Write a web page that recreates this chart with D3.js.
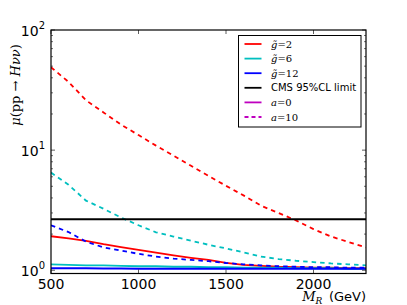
<!DOCTYPE html>
<html>
<head>
<meta charset="utf-8">
<script src="https://cdn.jsdelivr.net/npm/d3@7"></script>
<style>
  body { margin: 0; background: #fff; }
  svg { display: block; font-family: "DejaVu Sans", sans-serif; }
  .math { font-family: "DejaVu Serif", serif; }
</style>
</head>
<body>
<div id="chart"></div>
<script>
// mass points (GeV) and signal strengths
const massGeV = [500, 600, 700, 800, 900, 1000, 1100, 1200, 1300, 1400, 1500, 1600, 1700, 1800, 1900, 2000, 2100, 2200, 2300];
const g2_a0   = [1.92, 1.84, 1.76, 1.65, 1.56, 1.48, 1.40, 1.33, 1.27, 1.22, 1.15, 1.11, 1.09, 1.07, 1.06, 1.05, 1.05, 1.04, 1.04];
const g2_a10  = [49, 37, 26, 20.6, 16.3, 13.35, 10.9, 9.0, 7.4, 6.1, 5.05, 4.2, 3.45, 3.0, 2.6, 2.2, 1.91, 1.72, 1.55];
const g6_a0   = [1.12, 1.11, 1.10, 1.10, 1.09, 1.08, 1.08, 1.07, 1.07, 1.06, 1.06, 1.05, 1.05, 1.05, 1.04, 1.04, 1.04, 1.03, 1.03];
const g6_a10  = [6.5, 5.15, 3.8, 3.25, 2.75, 2.37, 2.07, 1.91, 1.76, 1.63, 1.52, 1.41, 1.30, 1.24, 1.20, 1.17, 1.14, 1.12, 1.10];
const g12_a0  = [1.04, 1.04, 1.04, 1.035, 1.035, 1.03, 1.03, 1.03, 1.03, 1.03, 1.03, 1.03, 1.03, 1.03, 1.03, 1.03, 1.03, 1.03, 1.03];
const g12_a10 = [2.37, 2.08, 1.73, 1.55, 1.46, 1.37, 1.30, 1.25, 1.22, 1.19, 1.15, 1.12, 1.10, 1.08, 1.07, 1.06, 1.06, 1.05, 1.05];
const cmsLimit = 2.66;

const xTicks = [500, 1000, 1500, 2000];
const yDecades = [1, 10, 100];
const yExponents = ["0", "1", "2"];

const series = [
  { vals: g2_a0,   color: "#ff0000", dash: null },
  { vals: g2_a10,  color: "#ff0000", dash: "4.5,4" },
  { vals: g6_a0,   color: "#00bfbf", dash: null },
  { vals: g6_a10,  color: "#00bfbf", dash: "4.5,4" },
  { vals: g12_a0,  color: "#0000ff", dash: null },
  { vals: g12_a10, color: "#0000ff", dash: "4.5,4" }
];

const legendItems = [
  { g: "2",  color: "#ff0000", dash: null },
  { g: "6",  color: "#00bfbf", dash: null },
  { g: "12", color: "#0000ff", dash: null },
  { text: "CMS 95%CL limit", color: "#000", dash: null },
  { a: "0",  color: "#bf00bf", dash: null },
  { a: "10", color: "#bf00bf", dash: "4.5,4" }
];

const width = 407, height = 305;
const margin = { top: 30, right: 41, bottom: 31.5, left: 51 };
const w = width - margin.left - margin.right;
const h = height - margin.top - margin.bottom;

const svg = d3.select("#chart").append("svg")
  .attr("width", width)
  .attr("height", height);

const g = svg.append("g")
  .attr("transform", "translate(" + margin.left + "," + margin.top + ")");

const x = d3.scaleLinear().domain([500, 2300]).range([0, w]);
const y = d3.scaleLog().domain([0.94, 100]).range([h, 0]);

g.append("clipPath").attr("id", "plot-clip")
  .append("rect").attr("width", w).attr("height", h);

const plot = g.append("g").attr("clip-path", "url(#plot-clip)");

const line = d3.line()
  .x((d, i) => x(massGeV[i]))
  .y(d => y(d));

series.forEach(s => {
  plot.append("path")
    .attr("d", line(s.vals))
    .attr("fill", "none")
    .attr("stroke", s.color)
    .attr("stroke-width", 1.8)
    .attr("stroke-dasharray", s.dash);
});

// CMS limit
plot.append("line")
  .attr("x1", 0).attr("x2", w)
  .attr("y1", y(cmsLimit)).attr("y2", y(cmsLimit))
  .attr("stroke", "#000")
  .attr("stroke-width", 2);

// ticks, inward on all four sides
const tickColor = "#333";
xTicks.forEach(t => {
  [[h, h - 4], [0, 4]].forEach(([a, b]) => {
    g.append("line").attr("x1", x(t)).attr("x2", x(t))
      .attr("y1", a).attr("y2", b)
      .attr("stroke", tickColor).attr("stroke-width", 0.8);
  });
});

const minor = [];
[1, 10].forEach(dec => d3.range(2, 10).forEach(m => minor.push(dec * m)));
minor.forEach(v => {
  [[0, 2], [w, w - 2]].forEach(([a, b]) => {
    g.append("line").attr("x1", a).attr("x2", b)
      .attr("y1", y(v)).attr("y2", y(v))
      .attr("stroke", tickColor).attr("stroke-width", 0.7);
  });
});
yDecades.forEach(v => {
  [[0, 4], [w, w - 4]].forEach(([a, b]) => {
    g.append("line").attr("x1", a).attr("x2", b)
      .attr("y1", y(v)).attr("y2", y(v))
      .attr("stroke", tickColor).attr("stroke-width", 0.8);
  });
});

// frame
g.append("rect")
  .attr("width", w).attr("height", h)
  .attr("fill", "none")
  .attr("stroke", "#000")
  .attr("stroke-width", 1.2);

// x tick labels
xTicks.forEach(t => {
  g.append("text")
    .attr("x", x(t)).attr("y", h + 15.5)
    .attr("text-anchor", "middle")
    .attr("font-size", 14)
    .text(t);
});

// y tick labels 10^n
yDecades.forEach((v, i) => {
  const t = g.append("text")
    .attr("x", -6).attr("y", y(v) + 6)
    .attr("text-anchor", "end")
    .attr("font-size", 14);
  t.append("tspan").text("10");
  t.append("tspan").attr("font-size", 10).attr("dy", -7).text(yExponents[i]);
});

// axis labels
const xl = svg.append("text")
  .attr("x", margin.left + w).attr("y", 301)
  .attr("text-anchor", "end")
  .attr("font-size", 13);
xl.append("tspan").attr("class", "math").attr("font-style", "italic").text("M");
xl.append("tspan").attr("class", "math").attr("font-style", "italic")
  .attr("font-size", 9).attr("dy", 3).text("R");
xl.append("tspan").attr("dy", -3).text("\u2002(GeV)");

const yl = svg.append("text")
  .attr("class", "math")
  .attr("transform", "translate(20,85) rotate(-90)")
  .attr("text-anchor", "middle")
  .attr("font-size", 13);
yl.append("tspan").attr("font-style", "italic").text("\u03bc");
yl.append("tspan").text("(pp \u2192 ");
yl.append("tspan").attr("font-style", "italic").text("H\u03bd\u03bd");
yl.append("tspan").text(")");

// legend
const lg = svg.append("g").attr("transform", "translate(238.5,35.5)");
lg.append("rect")
  .attr("width", 122.5).attr("height", 91.5)
  .attr("fill", "#fff")
  .attr("stroke", "#000")
  .attr("stroke-width", 1);

legendItems.forEach((d, i) => {
  const yy = 8.5 + i * 14.6;
  lg.append("line")
    .attr("x1", 6).attr("x2", 23)
    .attr("y1", yy).attr("y2", yy)
    .attr("stroke", d.color)
    .attr("stroke-width", 1.8)
    .attr("stroke-dasharray", d.dash ? "4,3" : null);
  const t = lg.append("text")
    .attr("x", 32.5).attr("y", yy + 3.5)
    .attr("font-size", 10);
  if (d.text) {
    t.text(d.text);
  } else if (d.g) {
    t.attr("class", "math");
    t.append("tspan").attr("font-style", "italic").text("g\u0303");
    t.append("tspan").text("=" + d.g);
  } else {
    t.attr("class", "math");
    t.append("tspan").attr("font-style", "italic").text("a");
    t.append("tspan").text("=" + d.a);
  }
});
</script>
</body>
</html>
